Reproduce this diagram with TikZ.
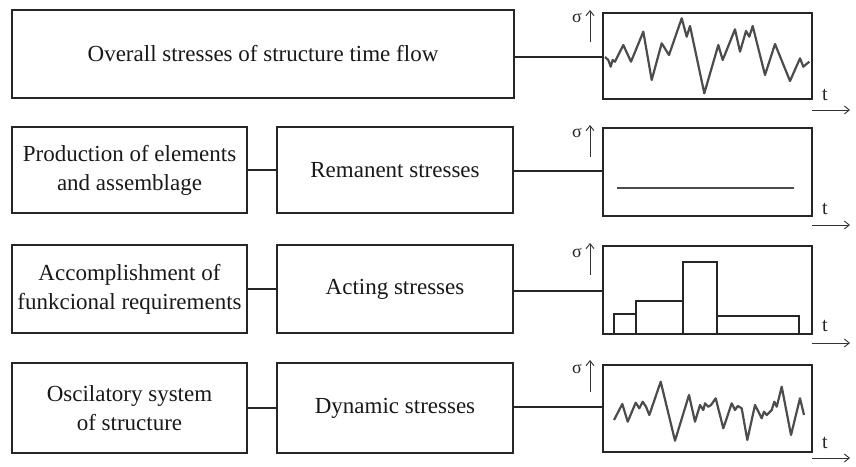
\documentclass[tikz,border=0pt]{standalone}
\usepackage{fontspec}
\setmainfont{Liberation Serif}
\usetikzlibrary{arrows.meta}
\begin{document}
\begin{tikzpicture}[x=1pt,y=-1pt,
  box/.style={draw=black!85,line width=1.3pt,rectangle,inner sep=0pt,align=center,
    font=\fontsize{23}{29}\selectfont,text=black!90},
  plotbox/.style={draw=black!85,line width=1.3pt,rectangle,inner sep=0pt},
  conn/.style={draw=black!85,line width=1.3pt},
  wave/.style={draw=black!70,line width=2.2pt,line join=round},
  axis/.style={draw=black!80,line width=0.9pt,-{Straight Barb[length=5pt,width=8pt]}},
  lab/.style={font=\fontsize{18}{18}\selectfont,text=black!85,inner sep=0pt}]
\useasboundingbox[fill=white] (0,0) rectangle (856,466);

% boxes
\node[box,minimum width=502pt,minimum height=88pt] (top) at (263,54) {Overall stresses of structure time flow};
\node[plotbox,minimum width=209pt,minimum height=86pt] (r1) at (707.5,56) {};

\node[box,minimum width=235pt,minimum height=86pt] (l2) at (129.5,170) {Production of elements\\and assemblage};
\node[box,minimum width=236pt,minimum height=86pt] (m2) at (395,170) {Remanent stresses};
\node[plotbox,minimum width=209pt,minimum height=88pt] (r2) at (707.5,172) {};

\node[box,minimum width=235pt,minimum height=88pt] (l3) at (129.5,289) {Accomplishment of\\funkcional requirements};
\node[box,minimum width=236pt,minimum height=88pt] (m3) at (395,289) {Acting stresses};
\node[plotbox,minimum width=209pt,minimum height=88pt] (r3) at (707.5,290) {};

\node[box,minimum width=235pt,minimum height=90pt] (l4) at (129.5,408) {Oscilatory system\\of structure};
\node[box,minimum width=236pt,minimum height=90pt] (m4) at (395,408) {Dynamic stresses};
\node[plotbox,minimum width=209pt,minimum height=87pt] (r4) at (707.5,408.5) {};

% connectors
\draw[conn] (top.east |- 0,57) -- (r1.west |- 0,57);
\draw[conn] (l2.east) -- (m2.west);
\draw[conn] (m2.east |- 0,171) -- (r2.west |- 0,171);
\draw[conn] (l3.east) -- (m3.west);
\draw[conn] (m3.east |- 0,291) -- (r3.west |- 0,291);
\draw[conn] (l4.east) -- (m4.west);
\draw[conn] (m4.east |- 0,407) -- (r4.west |- 0,407);

% axes labels
\foreach \n/\sy/\ay/\ty/\tay in {1/18/42/95/110, 2/133/157/209/225, 3/253/275/326/343, 4/369/392/443/458}{
  \node[lab] (sig\n) at (577,\sy) {σ};
  \coordinate (ya\n) at (590,\ay);
  \coordinate (yb\n) at (590,\ay-32);
  \draw[axis] (ya\n) -- (yb\n);
  \node[lab,font=\fontsize{20}{20}\selectfont] (t\n) at (825,\ty) {t};
  \coordinate (xa\n) at (812,\tay);
  \coordinate (xb\n) at (850,\tay);
  \draw[axis] (xa\n) -- (xb\n);
}

% waveform 1
\draw[wave] (605,57) -- (608.3,60) -- (610.7,66.7) -- (612.7,60) -- (615,61.7) -- (623.3,45) -- (631,61.7) -- (643.3,31.7) -- (651.7,80) -- (661.7,43.3) -- (669,55) -- (681.7,18.3) -- (686.7,36.7) -- (690,26) -- (704.3,93.3) -- (718.3,45) -- (722.7,60) -- (735,29.3) -- (740,51.7) -- (746,31) -- (749.3,36.7) -- (752.7,26) -- (765,75) -- (775,44) -- (790,81) -- (800,58.3) -- (803.3,66.7) -- (809.3,61.7);

% row 2 constant
\draw[wave,line width=1.8pt] (617,188) -- (794,188);

% row 3 bars
\draw[plotbox] (614,334) -- (614,314) -- (636,314) -- (636,334);
\draw[plotbox] (636,334) -- (636,301) -- (683,301) -- (683,334);
\draw[plotbox] (683,334) -- (683,262) -- (717,262) -- (717,334);
\draw[plotbox] (717,334) -- (717,316) -- (799,316) -- (799,334);

% waveform 4
\draw[wave] (614,420) -- (622.3,404) -- (627.7,421.7) -- (635.7,402.7) -- (639.3,408.3) -- (642.7,401.7) -- (646,406.7) -- (649.3,415) -- (660.7,381.7) -- (675,440.7) -- (689,395) -- (695,421.7) -- (700,405) -- (703.3,410) -- (705,403.3) -- (708.3,406.7) -- (711,405) -- (715.7,398.3) -- (723.3,428.3) -- (731.7,403.3) -- (735,410) -- (737.7,406) -- (741.7,408.3) -- (747.3,440) -- (755,405) -- (761.7,418.3) -- (764,411.7) -- (766.7,415) -- (771.7,410) -- (774.3,401.7) -- (776.7,406.7) -- (781.7,386.7) -- (791,435) -- (800,398.3) -- (804,415);
\end{tikzpicture}
\end{document}
